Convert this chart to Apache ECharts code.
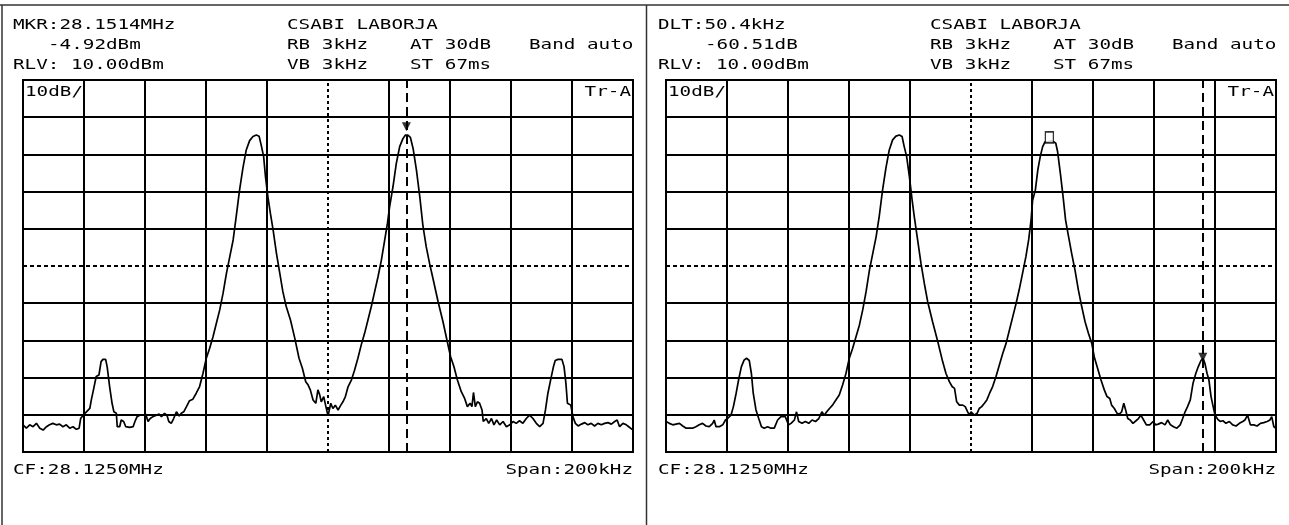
<!DOCTYPE html>
<html><head><meta charset="utf-8">
<script src="https://cdn.jsdelivr.net/npm/echarts@6/dist/echarts.min.js"></script>
<style>html,body{margin:0;padding:0;background:#fff}#c{width:1289px;height:525px}</style>
</head><body><div id="c"></div><script>
// Trace A, left screen: [frequency offset from CF (kHz), level (dBm)]
const leftTrace = [
[-100,-82.7],[-98.9,-83.6],[-97.8,-82.7],[-96.7,-83.2],[-95.6,-82.3],[-94.5,-83.6],[-93.4,-84.1],[-92.3,-83.2],[-91.3,-82.7],[-90.2,-82.3],
[-89.1,-82.7],[-88.0,-82.5],[-86.9,-83.2],[-85.8,-82.7],[-84.7,-83.6],[-83.6,-83.2],[-82.5,-83.9],[-81.6,-83.6],[-81.1,-81.0],[-80.3,-80.1],
[-79.2,-79.2],[-78.1,-78.3],[-77.6,-76.0],[-76.9,-73.3],[-76.0,-69.7],[-75.1,-69.3],[-74.4,-65.7],[-73.8,-65.1],[-72.9,-65.1],[-72.4,-67.1],
[-71.6,-72.4],[-70.8,-76.9],[-70.2,-79.2],[-69.4,-79.6],[-69.1,-83.2],[-68.3,-83.2],[-67.8,-81.4],[-67.0,-81.8],[-66.3,-83.2],[-65.0,-83.4],
[-63.9,-83.2],[-63.3,-81.8],[-62.6,-80.5],[-61.7,-80.1],[-60.7,-80.1],[-59.8,-79.8],[-59.0,-81.8],[-58.3,-81.0],[-57.4,-80.5],[-56.3,-80.1],
[-55.4,-79.8],[-54.6,-80.5],[-53.6,-79.6],[-52.8,-80.1],[-52.2,-81.8],[-51.4,-82.3],[-50.6,-81.0],[-49.7,-79.2],[-48.8,-80.3],[-48.1,-79.6],
[-47.3,-79.2],[-46.4,-77.8],[-45.4,-76.2],[-44.3,-75.8],[-43.2,-74.2],[-42.1,-72.4],[-41.0,-68.9],[-39.9,-64.8],[-38.8,-62.1],[-37.7,-59.0],
[-36.6,-55.4],[-35.5,-51.8],[-34.4,-47.3],[-33.3,-42.0],[-32.2,-37.5],[-31.1,-33.0],[-30.1,-26.7],[-29.0,-19.6],[-27.9,-13.7],[-26.8,-8.8],
[-25.7,-6.3],[-24.6,-5.2],[-23.5,-4.8],[-22.6,-5.1],[-21.9,-7.5],[-21.1,-10.6],[-20.5,-16.0],[-19.7,-21.4],[-18.9,-25.8],[-18.0,-30.3],
[-16.9,-36.6],[-15.8,-42.0],[-14.8,-46.9],[-13.7,-50.9],[-12.3,-54.5],[-10.9,-59.4],[-9.5,-64.8],[-8.4,-67.5],[-7.3,-71.1],[-6.5,-72.0],
[-5.8,-73.3],[-4.9,-76.0],[-4.0,-76.9],[-3.3,-73.3],[-2.7,-74.7],[-2.2,-76.5],[-1.4,-75.1],[-0.8,-77.4],[0,-80.3],
[0.2,-79.6],[0.9,-76.9],[1.6,-78.3],[2.4,-77.4],[3.3,-78.7],[4.2,-77.4],[4.9,-76.5],[5.7,-75.1],[6.6,-72.4],[7.7,-70.6],
[8.7,-68.0],[9.8,-64.8],[10.9,-61.2],[12.0,-58.1],[13.1,-54.5],[14.2,-50.9],[15.3,-46.9],[16.4,-42.9],[17.5,-38.4],[18.6,-33.0],
[19.5,-28.5],[20.2,-24.1],[21.3,-18.7],[22.4,-12.4],[23.5,-7.9],[24.6,-5.7],[25.4,-4.8],[26.2,-4.8],[27.0,-5.4],[27.9,-8.4],
[29.0,-14.2],[30.1,-21.4],[31.1,-29.0],[32.2,-34.8],[33.3,-39.3],[34.4,-43.3],[36.1,-49.6],[37.7,-55.0],[39.1,-60.3],[40.2,-64.4],
[41.3,-67.1],[42.4,-70.6],[43.7,-73.8],[44.8,-75.6],[45.7,-77.8],[46.6,-76.9],[47.2,-77.8],[47.7,-74.0],[48.3,-77.8],[49.0,-76.5],
[49.7,-76.9],[50.5,-78.7],[50.9,-81.8],[51.9,-81.0],[52.7,-82.3],[53.6,-81.0],[54.4,-82.7],[55.3,-81.4],[56.3,-82.7],[57.4,-81.8],
[58.5,-83.2],[59.6,-82.7],[60.7,-81.8],[61.7,-82.3],[62.8,-81.6],[63.9,-82.3],[65.0,-81.0],[66.1,-80.1],[67.2,-81.0],[68.3,-82.3],
[69.4,-83.2],[70.5,-82.3],[71.3,-78.7],[72.1,-74.2],[73.0,-70.6],[73.9,-67.1],[74.5,-65.4],[75.4,-65.1],[76.7,-65.1],[77.4,-67.1],
[78.0,-71.5],[78.5,-76.9],[79.6,-77.4],[80.3,-80.5],[81.1,-82.3],[82.0,-83.0],[83.1,-82.5],[84.2,-82.1],[85.2,-82.7],[86.3,-82.3],
[87.4,-83.0],[88.5,-82.3],[89.6,-82.7],[90.7,-82.3],[91.8,-82.1],[92.9,-82.5],[94.0,-81.8],[94.8,-81.4],[95.6,-83.2],[96.7,-82.3],
[97.8,-82.7],[98.6,-83.2],[99.7,-83.9],[100,-83.9]
];
// Trace A, right screen
const rightTrace = [
[-100,-81.8],[-98.9,-82.3],[-97.8,-82.7],[-96.7,-82.5],[-95.6,-82.3],[-94.5,-83.0],[-93.4,-83.6],[-92.3,-83.6],[-91.3,-83.6],[-90.2,-83.2],
[-89.1,-82.7],[-88.0,-82.3],[-86.9,-83.0],[-85.8,-83.2],[-84.7,-82.3],[-84.2,-81.4],[-83.6,-83.2],[-82.5,-83.2],[-81.4,-82.7],[-80.5,-81.4],
[-79.8,-81.0],[-78.7,-80.1],[-77.9,-77.8],[-77.0,-74.2],[-76.2,-70.6],[-75.3,-67.1],[-74.4,-65.3],[-73.6,-64.8],[-72.7,-65.4],[-72.0,-68.9],
[-71.4,-74.2],[-70.5,-78.7],[-69.6,-81.0],[-68.7,-83.2],[-67.8,-83.6],[-66.7,-83.2],[-65.6,-83.6],[-64.5,-83.6],[-63.4,-81.4],[-62.3,-80.5],
[-60.9,-80.5],[-59.8,-82.7],[-59.0,-82.3],[-57.9,-81.4],[-57.2,-79.2],[-56.5,-81.8],[-55.4,-82.3],[-54.3,-81.8],[-53.2,-82.3],[-52.1,-81.4],
[-51.0,-81.8],[-49.9,-81.0],[-48.9,-79.2],[-48.1,-80.1],[-47.3,-79.2],[-46.4,-78.3],[-45.4,-77.4],[-44.3,-76.0],[-43.2,-74.7],[-42.1,-72.0],
[-41.0,-68.9],[-39.9,-64.8],[-38.8,-62.1],[-37.7,-59.0],[-36.6,-55.9],[-35.5,-51.8],[-34.4,-46.9],[-33.3,-41.1],[-32.2,-36.6],[-31.1,-32.1],
[-30.1,-26.7],[-29.0,-19.6],[-27.9,-13.7],[-26.8,-8.8],[-25.7,-6.1],[-24.6,-5.1],[-23.5,-4.8],[-22.6,-5.2],[-21.9,-7.9],[-21.1,-10.6],
[-20.2,-16.0],[-19.3,-22.3],[-18.6,-26.7],[-17.5,-33.0],[-16.4,-39.3],[-15.3,-44.7],[-14.2,-49.6],[-12.6,-55.0],[-10.9,-60.3],[-9.3,-65.7],
[-8.2,-68.9],[-7.1,-71.1],[-6.2,-72.4],[-5.4,-72.9],[-4.7,-76.5],[-3.8,-77.4],[-2.7,-77.4],[-1.9,-77.8],[-1.1,-79.2],[-0.5,-80.1],[0,-79.2],
[0.2,-79.2],[1.1,-80.1],[2.0,-79.6],[2.7,-78.3],[3.5,-77.8],[4.4,-76.9],[5.2,-76.0],[6.1,-74.2],[7.1,-72.4],[8.2,-69.7],
[9.3,-66.6],[10.4,-63.5],[11.5,-60.8],[12.6,-57.2],[13.7,-53.6],[14.8,-50.0],[15.8,-46.4],[16.9,-42.0],[18.0,-37.5],[18.9,-33.0],
[19.7,-27.6],[20.2,-22.3],[21.1,-19.6],[21.9,-14.2],[22.7,-10.6],[23.5,-7.9],[24.3,-6.6],[25.1,-6.6],[26.2,-6.4],[27.1,-6.6],
[27.8,-7.0],[28.4,-9.3],[29.3,-15.1],[30.2,-21.4],[31.0,-27.6],[31.9,-31.7],[33.0,-36.6],[34.1,-41.1],[35.2,-46.4],[36.3,-50.9],
[37.4,-55.0],[38.5,-58.1],[39.6,-60.8],[40.4,-64.4],[41.5,-67.5],[42.6,-70.6],[43.7,-73.3],[44.6,-75.1],[45.5,-75.6],[46.1,-77.4],
[47.0,-78.3],[47.9,-79.6],[48.6,-79.8],[49.4,-79.2],[50.1,-76.9],[50.7,-78.7],[51.4,-81.0],[52.2,-81.4],[53.1,-82.3],[54.1,-81.6],
[54.9,-81.0],[55.7,-80.1],[56.6,-81.4],[57.5,-82.7],[58.6,-82.7],[59.7,-81.8],[60.5,-82.7],[61.4,-82.5],[62.5,-82.1],[63.6,-82.7],
[64.5,-81.4],[65.4,-82.7],[66.4,-83.2],[67.5,-83.6],[68.6,-82.7],[69.4,-81.0],[70.2,-79.2],[71.0,-77.8],[71.9,-76.0],[72.8,-71.5],
[73.7,-68.9],[74.5,-67.1],[75.4,-65.4],[76.1,-64.8],[76.7,-66.2],[77.4,-68.9],[78.0,-70.6],[78.7,-75.1],[79.4,-77.8],[80.0,-80.1],
[80.9,-81.2],[81.7,-81.8],[82.6,-81.6],[83.6,-82.3],[84.7,-81.8],[85.8,-82.7],[86.9,-83.0],[88.0,-82.3],[89.1,-81.8],[89.8,-81.4],
[90.7,-80.1],[91.6,-82.7],[92.7,-82.7],[93.8,-83.0],[94.9,-82.3],[96.0,-82.1],[97.1,-81.8],[98.0,-81.4],[98.6,-80.5],[99.3,-83.2],[100,-83.6]
];
// markers
const leftMarker = [[25.7, -2.6]];
const leftMarkerFreq = 25.7;
const rightRefMarker = [[25.7, -5.4]];
const rightDeltaMarker = [[76.0, -64.5]];
const rightMarkerFreq = 76.0;
// texts
const leftHeader = ['MKR:28.1514MHz', '-4.92dBm', 'RLV: 10.00dBm'];
const rightHeader = ['DLT:50.4kHz', '-60.51dB', 'RLV: 10.00dBm'];
const settings = ['CSABI LABORJA', 'RB 3kHz', 'VB 3kHz', 'AT 30dB', 'ST 67ms', 'Band auto'];
const footer = ['CF:28.1250MHz', 'Span:200kHz'];
const gridTexts = ['10dB/', 'Tr-A'];

const K = '#000';
const splitColors = [K, K, K, K, K, 'rgba(0,0,0,0)', K, K, K, K, K];
const SX = 1.376;
function txt(s, x, y, align) {
  align = align || 'left';
  return { type: 'text', x: x, y: y, scaleX: SX, silent: true, z: 10,
    style: { text: s, x: 0, y: 0, font: '14px "DejaVu Sans Mono"', fill: '#000',
      textAlign: align, align: align, textVerticalAlign: 'middle', verticalAlign: 'middle' } };
}
function line(x1, y1, x2, y2) {
  return { type: 'line', silent: true, shape: { x1, y1, x2, y2 }, style: { stroke: '#333', lineWidth: 1.5 } };
}
function xAx(i) {
  return { type: 'value', gridIndex: i, min: -100, max: 100, interval: 20,
    axisLabel: { show: false }, axisTick: { show: false }, axisLine: { show: false },
    splitLine: { show: true, lineStyle: { color: splitColors, width: 2 } } };
}
function yAx(i) {
  return { type: 'value', gridIndex: i, min: -90, max: 10, interval: 10,
    axisLabel: { show: false }, axisTick: { show: false }, axisLine: { show: false },
    splitLine: { show: true, lineStyle: { color: splitColors, width: 2 } } };
}
function trace(i, data, mFreq) {
  return { type: 'line', xAxisIndex: i, yAxisIndex: i, data: data, showSymbol: false, symbol: 'none',
    lineStyle: { color: K, width: 1.7 }, silent: true, animation: false, z: 3,
    markLine: { silent: true, symbol: ['none', 'none'], label: { show: false }, animation: false,
      data: [
        { xAxis: 0, lineStyle: { color: K, width: 2, type: [3, 3] } },
        { yAxis: -40, lineStyle: { color: K, width: 2, type: [4, 3] } },
        { xAxis: mFreq, lineStyle: { color: K, width: 2, type: [9, 5] } }
      ] } };
}
const dx = 643;
const graphics = [
  line(0, 5, 1289, 5), line(2, 5, 2, 525), line(646.5, 5, 646.5, 525),
  txt(leftHeader[0], 13, 25), txt(leftHeader[1], 48, 45), txt(leftHeader[2], 13, 65),
  txt(settings[0], 287, 25), txt(settings[1], 287, 45), txt(settings[2], 287, 65),
  txt(settings[3], 410, 45), txt(settings[4], 410, 65), txt(settings[5], 529, 45),
  txt(gridTexts[0], 25, 92), txt(gridTexts[1], 631, 92, 'right'),
  txt(footer[0], 13, 470), txt(footer[1], 633, 470, 'right'),
  txt(rightHeader[0], 658, 25), txt(rightHeader[1], 705, 45), txt(rightHeader[2], 658, 65),
  txt(settings[0], 287 + dx, 25), txt(settings[1], 287 + dx, 45), txt(settings[2], 287 + dx, 65),
  txt(settings[3], 410 + dx, 45), txt(settings[4], 410 + dx, 65), txt(settings[5], 529 + dx, 45),
  txt(gridTexts[0], 668, 92), txt(gridTexts[1], 1274, 92, 'right'),
  txt(footer[0], 658, 470), txt(footer[1], 1276, 470, 'right')
];
const chart = echarts.init(document.getElementById('c'), null, { renderer: 'canvas' });
chart.setOption({
  backgroundColor: '#fff',
  animation: false,
  grid: [
    { left: 23, top: 80, width: 610, height: 372, show: true, borderColor: K, borderWidth: 2, backgroundColor: 'transparent' },
    { left: 666, top: 80, width: 610, height: 372, show: true, borderColor: K, borderWidth: 2, backgroundColor: 'transparent' }
  ],
  xAxis: [xAx(0), xAx(1)],
  yAxis: [yAx(0), yAx(1)],
  series: [
    trace(0, leftTrace, leftMarkerFreq),
    trace(1, rightTrace, rightMarkerFreq),
    { type: 'scatter', xAxisIndex: 0, yAxisIndex: 0, data: leftMarker, symbol: 'triangle', symbolRotate: 180,
      symbolSize: [9, 9], itemStyle: { color: K }, silent: true, z: 5 },
    { type: 'scatter', xAxisIndex: 1, yAxisIndex: 1, data: rightRefMarker, symbol: 'rect',
      symbolSize: [8, 11], itemStyle: { color: '#fff', borderColor: K, borderWidth: 1.5 }, silent: true, z: 5 },
    { type: 'scatter', xAxisIndex: 1, yAxisIndex: 1, data: rightDeltaMarker, symbol: 'triangle', symbolRotate: 180,
      symbolSize: [9, 9], itemStyle: { color: K }, silent: true, z: 5 }
  ],
  graphic: graphics
});
</script></body></html>
